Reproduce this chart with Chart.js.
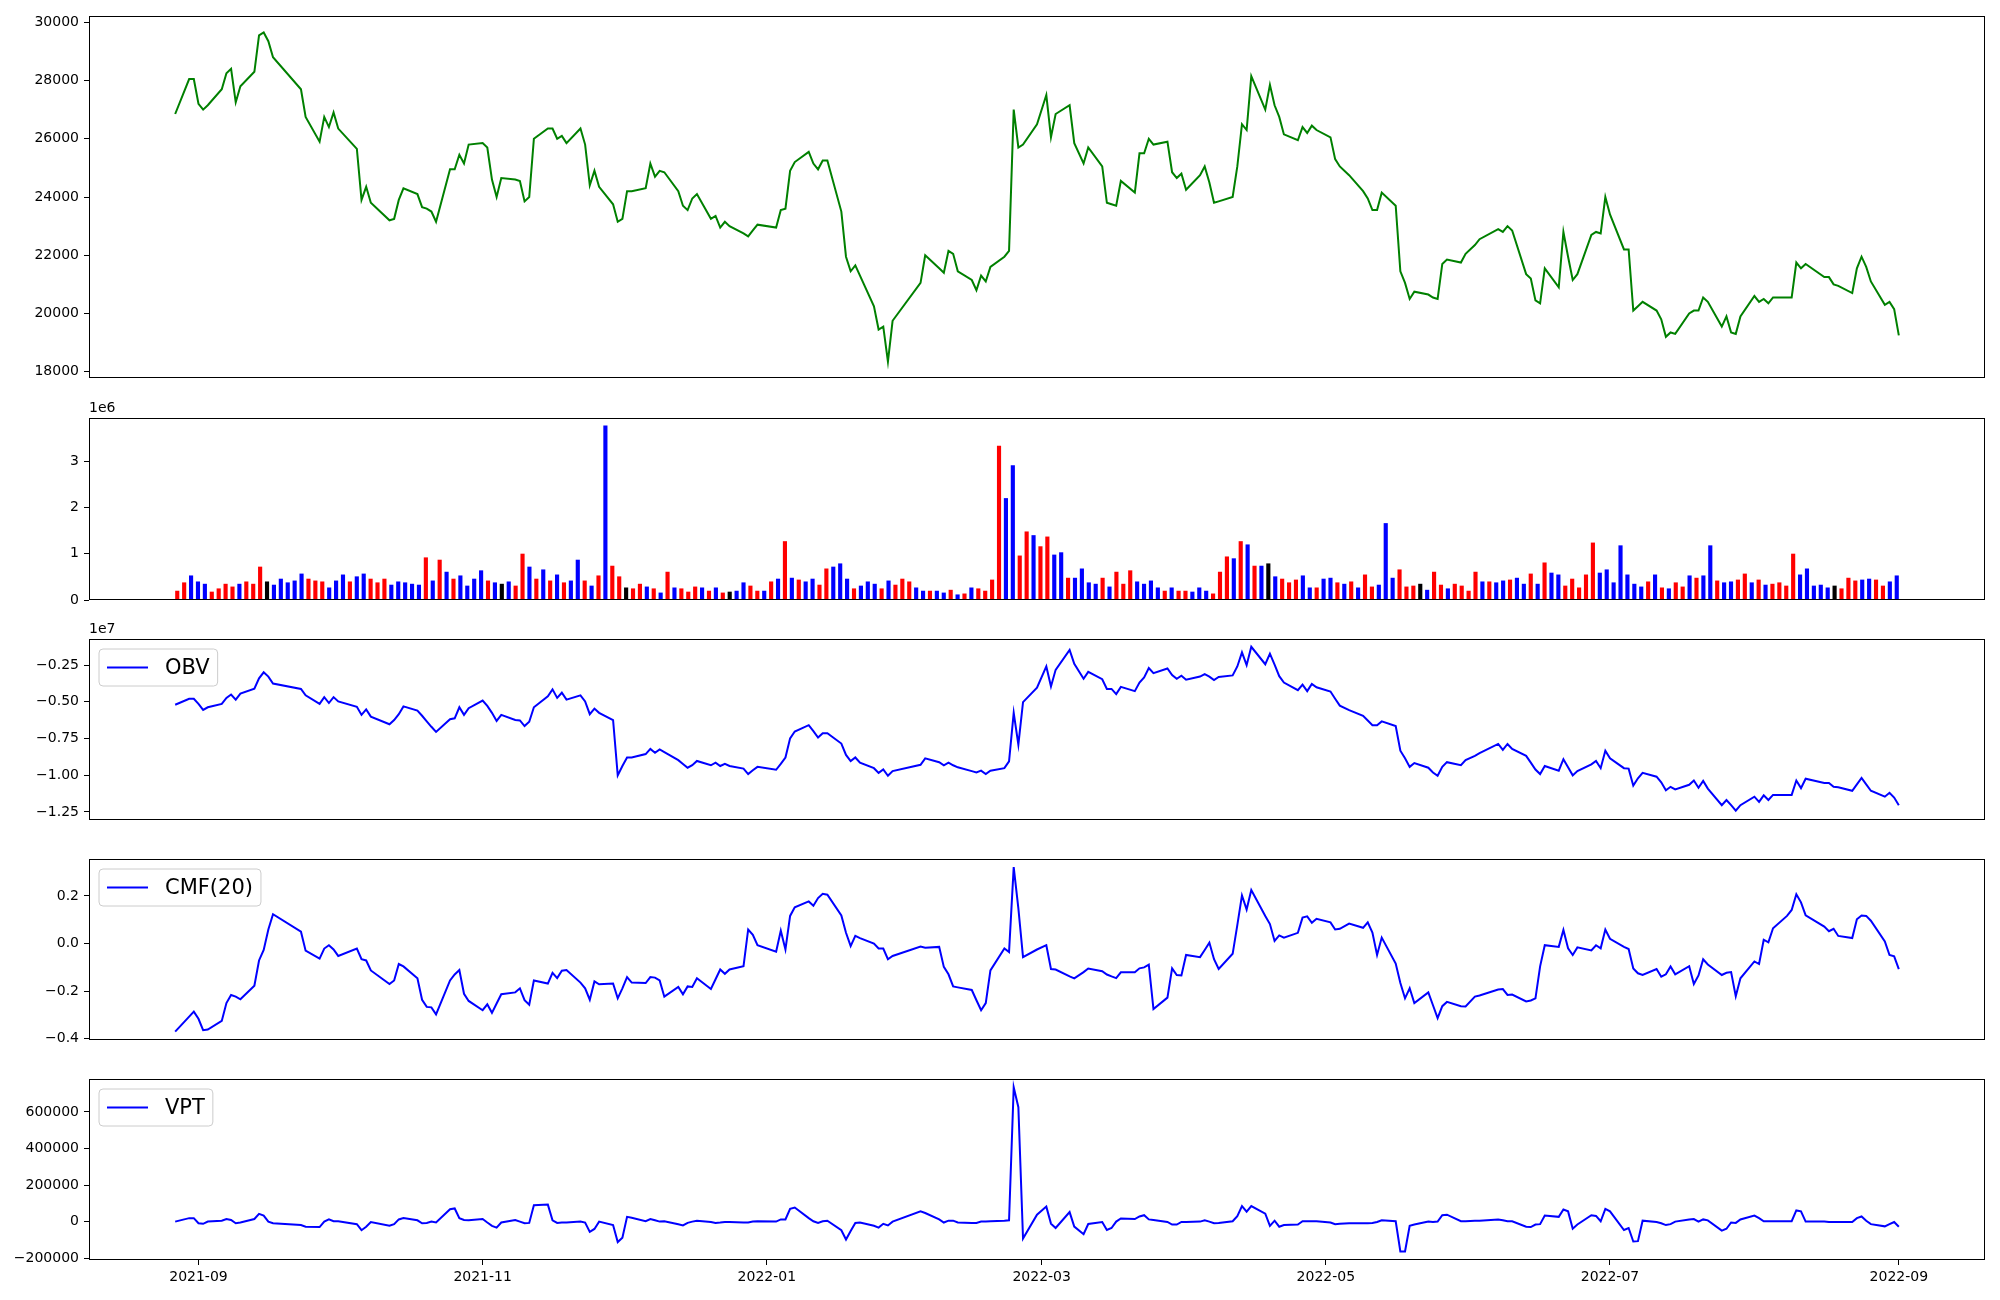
<!DOCTYPE html>
<html>
<head>
<meta charset="utf-8">
<script src="https://cdn.jsdelivr.net/npm/chart.js@4.4.1/dist/chart.umd.min.js"></script>
<style>
  body { margin: 0; background: #fff; width: 2000px; height: 1300px; position: relative; overflow: hidden; }
  canvas { position: absolute; left: 0; }
</style>
</head>
<body>
<script>
// trading days, one string per month: 'YYYY-MM|day day ...'
const tradeDays = [
  '2021-08|27 30 31',
  '2021-09|1 2 3 6 7 8 9 10 13 14 15 16 17 23 24 27 28 29 30',
  '2021-10|1 5 6 7 8 12 13 14 15 18 19 20 21 22 25 26 27 28 29',
  '2021-11|1 2 3 4 5 8 9 10 11 12 15 16 17 18 19 22 23 24 25 26 29 30',
  '2021-12|1 2 3 6 7 8 9 10 13 14 15 16 17 20 21 22 23 24 27 28 29 30',
  '2022-01|3 4 5 6 7 10 11 12 13 14 17 18 19 20 21 24 25 26 27 28',
  '2022-02|3 4 7 8 9 10 11 14 15 16 17 18 21 22 23 24 25 28',
  '2022-03|2 3 4 7 8 10 11 14 15 16 17 18 21 22 23 24 25 28 29 30 31',
  '2022-04|1 4 5 6 7 8 11 12 13 14 15 18 19 20 21 22 25 26 27 28 29',
  '2022-05|2 3 4 6 9 10 11 12 13 16 17 18 19 20 23 24 25 26 27 30 31',
  '2022-06|2 3 7 8 9 10 13 14 15 16 17 20 21 22 23 24 27 28 29 30',
  '2022-07|1 4 5 6 7 8 11 12 13 14 15 18 19 20 21 22 25 26 27 28 29',
  '2022-08|1 2 3 4 5 8 9 10 11 12 16 17 18 19 22 23 24 25 26 29 30 31',
  '2022-09|1'
];

const close = [
  26850,28050,28050,27200,27000,27150,27700,28250,28400,27250,
  27800,28300,29550,29650,29350,28800,27700,26750,25900,26750,
  26400,26900,26350,25650,23900,24350,23800,23200,23250,23900,
  24300,24100,23650,23600,23500,23150,24950,24950,25450,25150,
  25800,25850,25700,24600,24000,24650,24600,24550,23850,24000,
  26000,26350,26350,26000,26100,25850,26350,25800,24400,24900,
  24350,23750,23150,23250,24200,24200,24300,25150,24700,24900,
  24850,24200,23700,23550,23950,24100,23250,23350,22950,23150,
  23000,22750,22650,22850,23050,22950,23550,23600,24900,25200,
  25550,25150,24950,25250,25250,23500,21950,21450,21650,21300,
  20250,19450,19550,18350,19750,21050,22000,21550,21400,22150,
  22050,21450,21150,20800,21300,21100,21600,21950,22150,27000,
  25700,25800,26500,27500,26050,26850,27150,25850,25150,25700,
  25050,23800,23750,23700,24550,24150,25500,25500,26000,25800,
  25900,24850,24650,24800,24250,24750,25050,24500,23800,23850,
  24000,25050,26500,26300,28150,27000,27850,27150,26750,26150,
  25950,26400,26200,26450,26300,26050,25300,25050,24750,24200,
  23950,23550,23550,24150,23700,21450,21050,20500,20750,20650,
  20550,20500,21700,21850,21750,22050,22350,22550,22900,22800,
  23000,22850,21350,21200,20450,20350,21550,20900,22800,21950,
  21150,21350,22700,22800,22750,24000,23400,22200,22200,20100,
  20250,20400,20100,19800,19200,19350,19300,20000,20100,20100,
  20550,20400,19550,19900,19350,19300,19900,20600,20400,20500,
  20350,20550,20550,20550,21750,21550,21700,21250,21250,21000,
  20950,20700,21550,21950,21600,21100,20300,20400,20150,19250
];

// volume in millions of shares
const volumeM = [
  0.20,0.38,0.53,0.40,0.35,0.18,0.25,0.35,0.29,0.35,
  0.40,0.35,0.72,0.40,0.33,0.46,0.38,0.42,0.57,0.46,
  0.42,0.40,0.27,0.42,0.55,0.40,0.51,0.57,0.46,0.38,
  0.46,0.33,0.40,0.38,0.35,0.33,0.92,0.42,0.87,0.61,
  0.46,0.53,0.31,0.46,0.64,0.42,0.38,0.35,0.40,0.31,
  1.00,0.72,0.46,0.66,0.42,0.55,0.38,0.42,0.87,0.42,
  0.31,0.53,3.77,0.74,0.51,0.27,0.25,0.35,0.29,0.25,
  0.16,0.61,0.27,0.25,0.18,0.29,0.27,0.20,0.27,0.16,
  0.18,0.20,0.38,0.31,0.20,0.20,0.40,0.46,1.27,0.48,
  0.44,0.40,0.46,0.33,0.68,0.72,0.79,0.46,0.25,0.31,
  0.40,0.35,0.25,0.42,0.33,0.46,0.40,0.27,0.20,0.20,
  0.20,0.16,0.22,0.12,0.14,0.27,0.25,0.20,0.44,3.33,
  2.20,2.91,0.96,1.48,1.40,1.16,1.37,0.98,1.03,0.48,
  0.48,0.68,0.38,0.35,0.48,0.29,0.61,0.35,0.64,0.40,
  0.35,0.42,0.27,0.20,0.27,0.20,0.20,0.18,0.27,0.20,
  0.14,0.61,0.94,0.90,1.27,1.20,0.74,0.74,0.79,0.51,
  0.46,0.38,0.44,0.53,0.27,0.27,0.46,0.48,0.38,0.35,
  0.40,0.27,0.55,0.29,0.33,1.66,0.48,0.66,0.29,0.31,
  0.35,0.22,0.61,0.33,0.25,0.35,0.31,0.20,0.61,0.40,
  0.40,0.38,0.42,0.44,0.48,0.35,0.57,0.35,0.81,0.59,
  0.55,0.31,0.46,0.27,0.55,1.24,0.59,0.66,0.38,1.18,
  0.55,0.35,0.29,0.40,0.55,0.27,0.25,0.38,0.29,0.53,
  0.48,0.53,1.18,0.42,0.38,0.40,0.44,0.57,0.38,0.44,
  0.33,0.35,0.38,0.31,1.00,0.55,0.68,0.31,0.33,0.27,
  0.31,0.25,0.48,0.42,0.44,0.46,0.44,0.31,0.40,0.53
];
// bar colour per day: r = up, b = down, k = unchanged
const volumeDir =
  'rrbbbrrrrb' + 'rrrkbbbbbr' + 'rrbbbrbbrr' + 'rbbbbbrbrb' + 'rbbbbrbkbr' +
  'rbrbrbrbbr' + 'brbrrkrrbr' + 'brbrrrbrbr' + 'kbbrrbrbrb' + 'rbbrrbbbrb' +
  'bbrbrrrbbr' + 'bbrbrbrrrr' + 'bbrrbrrbbr' + 'bbbbrbrrrb' + 'bbbrbrrbbb' +
  'rrrbrbrbkb' + 'rrrbbrbbrb' + 'rbrrbbbrrr' + 'kbrrbrrrrb' + 'rbbrbbrbrb' +
  'brrrrrbbbb' + 'bbbrbrbrrb' + 'rbbrbbrrbr' + 'brrrrbbbbb' + 'krrrbbrrbb';

// OBV in units of 1e7
const obvE7 = [
  -0.520,-0.479,-0.479,-0.514,-0.555,-0.537,-0.514,-0.473,-0.450,-0.485,
  -0.444,-0.410,-0.340,-0.299,-0.328,-0.375,-0.412,-0.456,-0.514,-0.468,
  -0.508,-0.468,-0.497,-0.534,-0.589,-0.552,-0.601,-0.653,-0.624,-0.584,
  -0.531,-0.560,-0.595,-0.633,-0.670,-0.705,-0.618,-0.612,-0.537,-0.589,
  -0.543,-0.491,-0.528,-0.575,-0.630,-0.589,-0.624,-0.627,-0.665,-0.636,
  -0.537,-0.462,-0.415,-0.473,-0.438,-0.485,-0.456,-0.497,-0.584,-0.546,
  -0.575,-0.624,-1.001,-0.937,-0.879,-0.879,-0.856,-0.821,-0.847,-0.824,
  -0.842,-0.897,-0.923,-0.949,-0.932,-0.903,-0.932,-0.914,-0.937,-0.923,
  -0.937,-0.955,-0.992,-0.966,-0.943,-0.963,-0.923,-0.879,-0.749,-0.702,
  -0.659,-0.700,-0.743,-0.714,-0.714,-0.784,-0.862,-0.903,-0.879,-0.914,
  -0.952,-0.984,-0.961,-1.004,-0.972,-0.929,-0.885,-0.911,-0.932,-0.914,
  -0.932,-0.946,-0.972,-0.981,-0.969,-0.992,-0.969,-0.952,-0.905,-0.575,
  -0.792,-0.502,-0.404,-0.259,-0.395,-0.282,-0.146,-0.241,-0.343,-0.296,
  -0.346,-0.412,-0.412,-0.447,-0.398,-0.427,-0.369,-0.334,-0.270,-0.305,
  -0.273,-0.317,-0.343,-0.322,-0.349,-0.328,-0.311,-0.328,-0.352,-0.331,
  -0.320,-0.259,-0.163,-0.250,-0.125,-0.244,-0.172,-0.247,-0.325,-0.369,
  -0.421,-0.383,-0.427,-0.378,-0.401,-0.430,-0.479,-0.526,-0.557,-0.595,
  -0.627,-0.659,-0.659,-0.633,-0.665,-0.833,-0.885,-0.943,-0.917,-0.949,
  -0.981,-1.004,-0.943,-0.911,-0.932,-0.897,-0.868,-0.850,-0.787,-0.827,
  -0.787,-0.821,-0.868,-0.914,-0.961,-0.992,-0.937,-0.969,-0.891,-0.946,
  -1.001,-0.972,-0.926,-0.903,-0.952,-0.833,-0.885,-0.952,-0.955,-1.071,
  -1.021,-0.984,-1.010,-1.048,-1.103,-1.079,-1.097,-1.065,-1.036,-1.085,
  -1.039,-1.091,-1.204,-1.169,-1.204,-1.242,-1.204,-1.146,-1.181,-1.137,
  -1.169,-1.134,-1.134,-1.134,-1.036,-1.088,-1.024,-1.053,-1.053,-1.079,
  -1.082,-1.106,-1.062,-1.019,-1.062,-1.106,-1.146,-1.120,-1.152,-1.204
];

const cmf20 = [
  -0.370,-0.307,-0.286,-0.316,-0.364,-0.361,-0.325,-0.250,-0.216,-0.223,
  -0.234,-0.177,-0.071,-0.027,0.059,0.123,0.050,-0.030,-0.063,-0.021,
  -0.007,-0.025,-0.052,-0.021,-0.066,-0.071,-0.113,-0.170,-0.155,-0.086,
  -0.096,-0.146,-0.236,-0.266,-0.268,-0.297,-0.155,-0.130,-0.111,-0.211,
  -0.241,-0.280,-0.255,-0.291,-0.252,-0.213,-0.205,-0.188,-0.238,-0.257,
  -0.155,-0.168,-0.123,-0.145,-0.114,-0.111,-0.164,-0.188,-0.236,-0.159,
  -0.171,-0.168,-0.230,-0.188,-0.141,-0.164,-0.166,-0.141,-0.143,-0.155,
  -0.223,-0.182,-0.213,-0.180,-0.182,-0.146,-0.191,-0.150,-0.109,-0.127,
  -0.109,-0.095,0.059,0.037,-0.007,-0.034,0.054,-0.025,0.116,0.152,
  0.177,0.159,0.191,0.209,0.205,0.118,0.045,-0.011,0.032,0.023,
  0.000,-0.021,-0.021,-0.066,-0.052,-0.013,-0.018,-0.014,-0.098,-0.129,
  -0.180,-0.184,-0.195,-0.238,-0.280,-0.250,-0.113,-0.021,-0.036,0.321,
  0.148,-0.057,-0.025,-0.007,-0.107,-0.109,-0.138,-0.146,-0.120,-0.105,
  -0.116,-0.130,-0.138,-0.145,-0.121,-0.121,-0.104,-0.100,-0.089,-0.275,
  -0.227,-0.104,-0.132,-0.134,-0.048,-0.057,-0.027,0.004,-0.066,-0.107,
  -0.043,0.077,0.202,0.143,0.225,0.116,0.082,0.011,0.034,0.025,
  0.045,0.109,0.114,0.087,0.104,0.089,0.059,0.062,0.084,0.066,
  0.089,0.046,-0.048,0.025,-0.084,-0.166,-0.230,-0.188,-0.250,-0.205,
  -0.259,-0.313,-0.263,-0.245,-0.263,-0.264,-0.223,-0.218,-0.193,-0.191,
  -0.216,-0.214,-0.243,-0.239,-0.230,-0.096,-0.007,-0.014,0.057,-0.020,
  -0.048,-0.016,-0.029,-0.007,-0.020,0.059,0.020,-0.014,-0.023,-0.105,
  -0.125,-0.132,-0.107,-0.139,-0.129,-0.096,-0.129,-0.095,-0.170,-0.134,
  -0.066,-0.088,-0.132,-0.123,-0.120,-0.221,-0.146,-0.075,-0.086,0.016,
  0.005,0.064,0.116,0.141,0.207,0.173,0.118,0.071,0.052,0.062,
  0.032,0.023,0.102,0.118,0.116,0.096,0.009,-0.048,-0.054,-0.107
];

const vpt = [
  0,19000,19000,-9000,-12000,0,5000,14000,9000,-9000,
  -5000,14000,42000,33000,0,-9000,-19000,-28000,-30000,0,
  12000,2000,2000,-14000,-47000,-28000,-2000,-23000,-14000,12000,
  19000,7000,-9000,-7000,0,-5000,68000,72000,19000,9000,
  7000,14000,-5000,-23000,-33000,-5000,9000,0,-9000,-7000,
  89000,93000,7000,-7000,-5000,-5000,0,-5000,-56000,-40000,
  0,-19000,-112000,-88000,26000,21000,2000,14000,7000,0,
  2000,-14000,-21000,-7000,0,5000,-2000,-7000,-5000,-2000,
  -2000,-5000,-5000,0,2000,0,12000,12000,70000,77000,
  19000,2000,-7000,2000,5000,-47000,-98000,-51000,-7000,-5000,
  -23000,-33000,-12000,-21000,0,56000,47000,12000,-5000,5000,
  5000,-5000,-7000,-7000,0,0,2000,5000,7000,735000,
  626000,-93000,38000,82000,-11000,-35000,52000,-27000,-69000,-13000,
  -2000,-46000,-35000,0,17000,14000,28000,35000,12000,9000,
  -2000,-16000,-16000,-2000,-2000,0,7000,0,-9000,-7000,
  2000,30000,85000,54000,85000,43000,-23000,5000,-28000,-19000,
  -16000,2000,2000,2000,2000,-5000,-14000,-12000,-9000,-9000,
  -9000,-7000,-2000,7000,2000,-163000,-163000,-23000,-16000,0,
  -2000,0,35000,38000,2000,2000,5000,5000,12000,7000,
  2000,2000,-28000,-30000,-16000,-14000,33000,26000,66000,56000,
  -39000,-16000,35000,31000,2000,70000,56000,-46000,-35000,-109000,
  -107000,5000,-2000,-9000,-19000,-14000,0,12000,14000,0,
  12000,7000,-49000,-39000,-5000,-7000,12000,33000,19000,2000,
  2000,2000,2000,2000,61000,56000,0,0,-2000,-2000,
  -2000,-2000,19000,28000,5000,-14000,-26000,-14000,-2000,-28000
];

const monthTicks = ['2021-09', '2021-11', '2022-01', '2022-03', '2022-05', '2022-07', '2022-09'];
const priceTicks = [18000, 20000, 22000, 24000, 26000, 28000, 30000];
const volumeTicks = [0, 1, 2, 3];
const obvTicks = [-1.25, -1.00, -0.75, -0.50, -0.25];
const cmfTicks = [-0.4, -0.2, 0.0, 0.2];
const vptTicks = [-200000, 0, 200000, 400000, 600000];

// ---- build day offsets from the date list ----
const dates = [];
tradeDays.forEach(row => {
  const [ym, days] = row.split('|');
  days.split(' ').forEach(d => dates.push(ym + '-' + d.padStart(2, '0')));
});
const toUTC = s => { const p = s.split('-').map(Number); return Date.UTC(p[0], p[1] - 1, p[2]); };
const t0 = toUTC(dates[0]);
const dayOf = s => Math.round((toUTC(s) - t0) / 86400000);
const xs = dates.map(dayOf);
const span = xs[xs.length - 1] - xs[0];
const xMin = xs[0] - 0.05 * span, xMax = xs[xs.length - 1] + 0.05 * span;

const FONT = 'DejaVu Sans';
const minus = v => String(v).replace('-', '\u2212');

// frame, offset text and matplotlib-like legend
const decor = {
  id: 'decor',
  afterDatasetsDraw(chart, args, opts) {
    const { ctx, chartArea: a } = chart;
    if (opts.legend) {
      ctx.save();
      ctx.font = '21px "' + FONT + '"';
      const tw = ctx.measureText(opts.legend).width;
      const x0 = a.left + 10, y0 = a.top + 10, w = 8 + 41 + 17 + tw + 8, h = 37, r = 4;
      ctx.beginPath();
      ctx.moveTo(x0 + r, y0);
      ctx.arcTo(x0 + w, y0, x0 + w, y0 + h, r);
      ctx.arcTo(x0 + w, y0 + h, x0, y0 + h, r);
      ctx.arcTo(x0, y0 + h, x0, y0, r);
      ctx.arcTo(x0, y0, x0 + w, y0, r);
      ctx.closePath();
      ctx.fillStyle = 'rgba(255,255,255,0.8)';
      ctx.fill();
      ctx.strokeStyle = '#cccccc';
      ctx.lineWidth = 1;
      ctx.stroke();
      ctx.beginPath();
      ctx.moveTo(x0 + 8, y0 + h / 2);
      ctx.lineTo(x0 + 49, y0 + h / 2);
      ctx.strokeStyle = opts.legendColor;
      ctx.lineWidth = 2;
      ctx.stroke();
      ctx.fillStyle = '#000';
      ctx.textBaseline = 'middle';
      ctx.fillText(opts.legend, x0 + 66, y0 + h / 2 + 1);
      ctx.restore();
    }
  },
  afterDraw(chart, args, opts) {
    const { ctx, chartArea: a } = chart;
    ctx.save();
    ctx.strokeStyle = '#000';
    ctx.lineWidth = 1;
    ctx.strokeRect(Math.round(a.left) + 0.5, Math.round(a.top) + 0.5,
                   Math.round(a.right - a.left) - 1, Math.round(a.bottom - a.top) - 1);
    if (opts.offset) {
      ctx.font = '14px "' + FONT + '"';
      ctx.fillStyle = '#000';
      ctx.textBaseline = 'bottom';
      ctx.fillText(opts.offset, a.left, a.top - 3);
    }
    ctx.restore();
  }
};

function yAxis(min, max, ticks, fmt) {
  return {
    min, max,
    afterFit: s => { s.width = 89; },
    afterBuildTicks: s => { s.ticks = ticks.map(v => ({ value: v })); },
    grid: { drawOnChartArea: false, drawTicks: true, tickLength: 5, color: '#000', lineWidth: 1 },
    border: { display: false },
    ticks: { color: '#000', font: { family: FONT, size: 14 }, padding: 5, callback: fmt }
  };
}

function panel(top, height, type, datasets, y, x, opts, showX) {
  const c = document.createElement('canvas');
  c.width = 2000;
  c.height = height;
  c.style.top = top + 'px';
  document.body.appendChild(c);
  return new Chart(c, {
    type,
    data: { datasets },
    options: {
      responsive: false,
      animation: false,
      events: [],
      layout: { padding: { left: 0, right: 15, top: 20, bottom: showX ? 0 : 20 } },
      plugins: { legend: { display: false }, tooltip: { enabled: false }, decor: opts },
      scales: { x, y }
    },
    plugins: [decor]
  });
}

const hiddenDateX = { type: 'linear', min: xMin, max: xMax, display: false };
const line = (label, vals, color) => ({
  label, data: vals.map((v, i) => ({ x: xs[i], y: v })),
  borderColor: color, borderWidth: 2, pointRadius: 0, tension: 0, fill: false
});

// price
panel(-4, 402, 'line', [line('Close', close, '#008000')],
  yAxis(17785, 30215, priceTicks, v => String(v)), hiddenDateX, {}, false);

// volume, bars by index
const dirColor = { r: '#ff0000', b: '#0000ff', k: '#000000' };
const vLo = -0.3, vHi = volumeM.length - 1 + 0.3, vPad = 0.05 * (vHi - vLo);
panel(398, 222, 'bar', [{
    label: 'Volume',
    data: volumeM.map((v, i) => ({ x: i, y: v })),
    backgroundColor: volumeDir.split('').map(c => dirColor[c]),
    borderWidth: 0, barPercentage: 0.6, categoryPercentage: 1.0
  }],
  yAxis(0, 3.93, volumeTicks, v => String(v)),
  { type: 'linear', min: vLo - vPad, max: vHi + vPad, offset: false, display: false },
  { offset: '1e6' }, false);

// OBV
panel(619, 221, 'line', [line('OBV', obvE7, '#0000ff')],
  yAxis(-1.305, -0.072, obvTicks, v => minus(v.toFixed(2))), hiddenDateX,
  { offset: '1e7', legend: 'OBV', legendColor: '#0000ff' }, false);

// CMF
panel(839, 221, 'line', [line('CMF(20)', cmf20, '#0000ff')],
  yAxis(-0.405, 0.355, cmfTicks, v => minus(v.toFixed(1))), hiddenDateX,
  { legend: 'CMF(20)', legendColor: '#0000ff' }, false);

// VPT with the date axis
const tickDays = monthTicks.map(m => dayOf(m + '-01'));
panel(1059, 241, 'line', [line('VPT', vpt, '#0000ff')],
  yAxis(-210000, 780000, vptTicks, v => minus(v)),
  {
    type: 'linear', min: xMin, max: xMax,
    afterFit: s => { s.height = 40; },
    afterBuildTicks: s => { s.ticks = tickDays.map(v => ({ value: v })); },
    grid: { drawOnChartArea: false, drawTicks: true, tickLength: 5, color: '#000', lineWidth: 1 },
    border: { display: false },
    ticks: {
      color: '#000', font: { family: FONT, size: 14 }, padding: 4, maxRotation: 0, autoSkip: false,
      callback: v => monthTicks[tickDays.indexOf(v)]
    }
  },
  { legend: 'VPT', legendColor: '#0000ff' }, true);
</script>
</body>
</html>
